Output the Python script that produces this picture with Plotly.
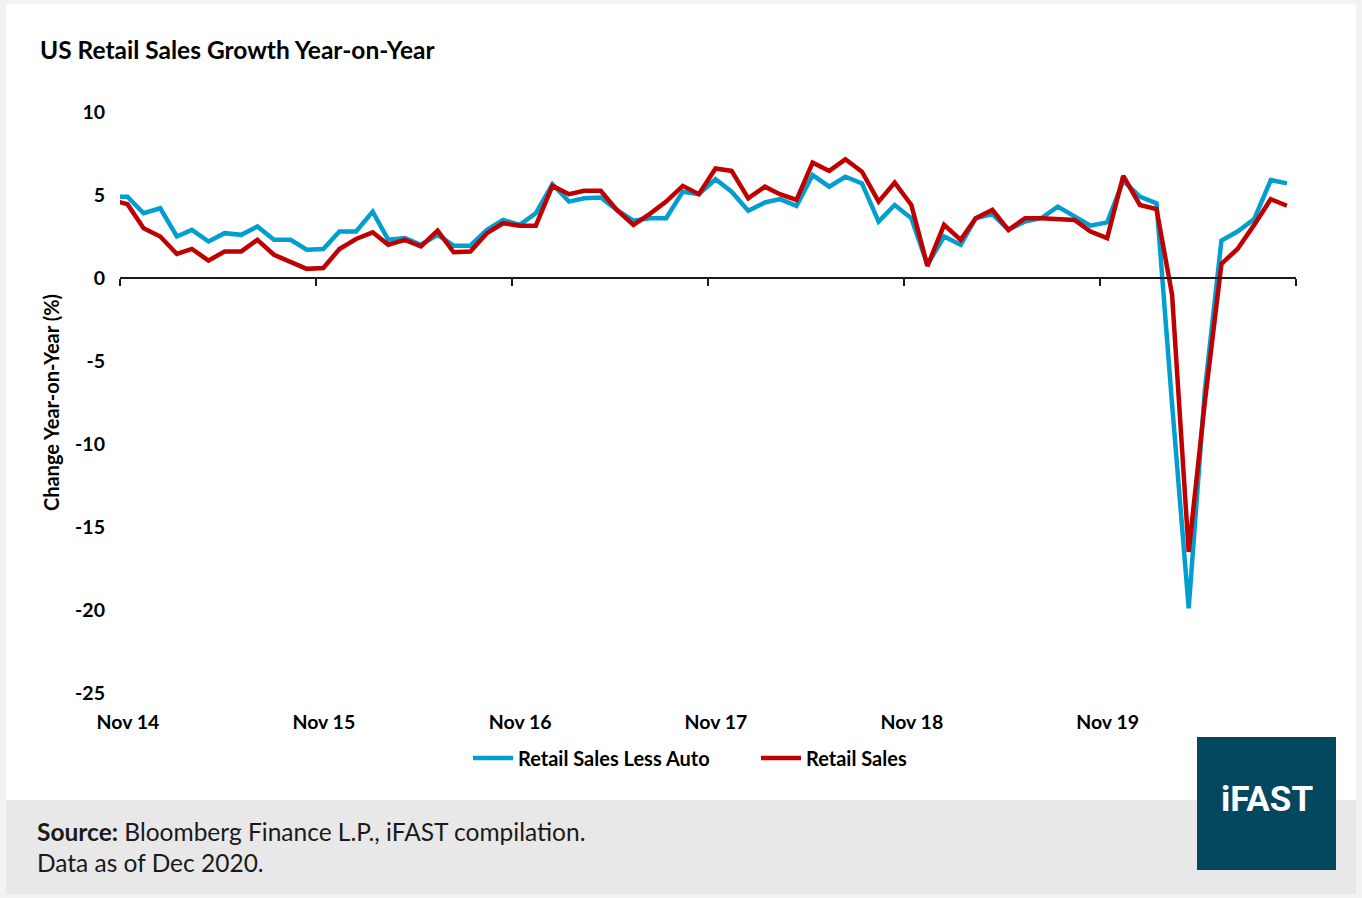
import pandas as pd
import plotly.graph_objects as go

# ---------------- data ----------------
# monthly observations, Oct 2014 .. Oct 2020 (plotted mid-month)
dates = pd.date_range("2014-10-01", periods=73, freq="MS") + pd.Timedelta(days=14)

retail_less_auto = [
    4.9, 4.9, 3.9, 4.2, 2.5, 2.9, 2.2, 2.7, 2.6, 3.1, 2.3, 2.3, 1.7,
    1.75, 2.8, 2.8, 4.0, 2.3, 2.4, 2.0, 2.6, 1.95, 1.95, 2.9, 3.5,
    3.2, 3.9, 5.65, 4.6, 4.8, 4.85, 4.1, 3.45, 3.6, 3.6, 5.2, 5.05,
    5.95, 5.2, 4.05, 4.55, 4.75, 4.35, 6.2, 5.5, 6.1, 5.7, 3.4, 4.4,
    3.6, 0.8, 2.5, 2.0, 3.6, 3.85, 2.9, 3.4, 3.6, 4.3, 3.75, 3.15,
    3.35, 5.85, 4.9, 4.5, -7.6, -19.9, -6.8, 2.25, 2.8, 3.55, 5.9, 5.7,
]
retail_sales = [
    4.7, 4.45, 3.0, 2.5, 1.45, 1.75, 1.05, 1.6, 1.6, 2.3, 1.4, 1.0, 0.55,
    0.6, 1.75, 2.35, 2.75, 2.0, 2.3, 1.9, 2.85, 1.55, 1.6, 2.7, 3.3,
    3.15, 3.15, 5.55, 5.05, 5.25, 5.25, 4.1, 3.2, 3.85, 4.6, 5.55, 5.05,
    6.6, 6.45, 4.8, 5.5, 5.05, 4.7, 6.95, 6.45, 7.15, 6.4, 4.6, 5.75,
    4.4, 0.72, 3.2, 2.3, 3.6, 4.1, 2.9, 3.6, 3.6, 3.55, 3.5, 2.8,
    2.4, 6.15, 4.4, 4.15, -1.0, -16.5, -7.5, 0.85, 1.75, 3.2, 4.75, 4.35,
]

x_tick_dates = ["2014-11-01", "2015-11-01", "2016-11-01", "2017-11-01",
                "2018-11-01", "2019-11-01"]
x_tick_labels = ["Nov 14", "Nov 15", "Nov 16", "Nov 17", "Nov 18", "Nov 19"]
x_tick_marks = x_tick_dates + ["2020-11-01"]
y_tick_vals = [10, 5, 0, -5, -10, -15, -20, -25]
y_tick_labels = ["10", "5", "0", "-5", "-10", "-15", "-20", "-25"]

# ---------------- layout geometry ----------------
W, H = 1362, 898
L, R, T, B = 120, 66, 112, 205
PW, PH = W - L - R, H - T - B


def px(xp):
    return (xp - L) / PW


def py(yp):
    return (H - B - yp) / PH


FONT = "Lato, 'Open Sans', sans-serif"
BLUE = "#009FD0"
RED = "#C00000"

fig = go.Figure()
fig.add_trace(go.Scatter(
    x=dates, y=retail_less_auto, mode="lines", name="Retail Sales Less Auto",
    line=dict(color=BLUE, width=4.5), xaxis="x", yaxis="y",
))
fig.add_trace(go.Scatter(
    x=dates, y=retail_sales, mode="lines", name="Retail Sales",
    line=dict(color=RED, width=4.5), xaxis="x2", yaxis="y",
))

x_range = ["2014-11-01", "2020-11-01"]

fig.update_layout(
    width=W, height=H,
    margin=dict(l=L, r=R, t=T, b=B),
    paper_bgcolor="#f2f2f2",
    plot_bgcolor="rgba(0,0,0,0)",
    font=dict(family=FONT, color="#000000"),
    title=dict(
        text="<b>US Retail Sales Growth Year-on-Year</b>",
        font=dict(size=24.5, family=FONT, color="#000000"),
        x=40 / W, xref="container", xanchor="left",
        y=1 - 50 / H, yref="container", yanchor="middle",
    ),
    xaxis=dict(
        type="date", range=x_range,
        tickvals=x_tick_dates, ticktext=x_tick_labels,
        tickfont=dict(size=19.5, family=FONT, color="#000000", weight="bold"),
        ticks="", showline=False, showgrid=False, zeroline=False,
        ticklabelshift=8, ticklabelstandoff=15,
        anchor="y",
    ),
    xaxis2=dict(
        type="date", range=x_range, matches="x", overlaying="x",
        anchor="free", position=25 / 35,
        tickvals=x_tick_marks, showticklabels=False,
        ticks="outside", ticklen=7, tickwidth=2, tickcolor="#1a1a1a",
        showline=True, linecolor="#1a1a1a", linewidth=2,
        showgrid=False, zeroline=False,
    ),
    yaxis=dict(
        range=[-25, 10], tickvals=y_tick_vals, ticktext=y_tick_labels,
        tickfont=dict(size=19.5, family=FONT, color="#000000", weight="bold"),
        ticks="", showline=False, showgrid=False, zeroline=False,
        ticklabelstandoff=14,
        title=dict(text="<b>Change Year-on-Year (%)</b>",
                   font=dict(size=20, family=FONT, color="#000000"),
                   standoff=10),
    ),
    showlegend=True,
    legend=dict(
        orientation="h", x=px(468), xanchor="left",
        y=py(758), yanchor="middle",
        font=dict(size=20, family=FONT, color="#000000", weight="bold"),
        bgcolor="rgba(0,0,0,0)", itemwidth=40, tracegroupgap=0,
        entrywidth=233, entrywidthmode="pixels",
    ),
    shapes=[
        dict(type="rect", xref="paper", yref="paper", layer="below",
             x0=px(6), x1=px(1356), y0=py(800), y1=py(4),
             fillcolor="#ffffff", line=dict(width=0)),
        dict(type="rect", xref="paper", yref="paper", layer="below",
             x0=px(6), x1=px(1356), y0=py(894), y1=py(800),
             fillcolor="#e8e8e8", line=dict(width=0)),
        dict(type="rect", xref="paper", yref="paper", layer="above",
             x0=px(1197), x1=px(1336), y0=py(870), y1=py(737),
             fillcolor="#03485f", line=dict(width=0)),
    ],
    annotations=[
        dict(text="<b>Source:</b> Bloomberg Finance L.P., iFAST compilation.",
             xref="paper", yref="paper", x=px(35), y=py(831),
             xanchor="left", yanchor="middle", showarrow=False,
             font=dict(size=24.5, family=FONT, color="#1a1a1a")),
        dict(text="Data as of Dec 2020.",
             xref="paper", yref="paper", x=px(35), y=py(862),
             xanchor="left", yanchor="middle", showarrow=False,
             font=dict(size=24.5, family=FONT, color="#1a1a1a")),
        dict(text="<b>iFAST</b>",
             xref="paper", yref="paper", x=px(1267), y=py(799),
             xanchor="center", yanchor="middle", showarrow=False,
             font=dict(size=35, family="Roboto, Arial, sans-serif", color="#ffffff")),
    ],
)

fig.write_html("out.html")
